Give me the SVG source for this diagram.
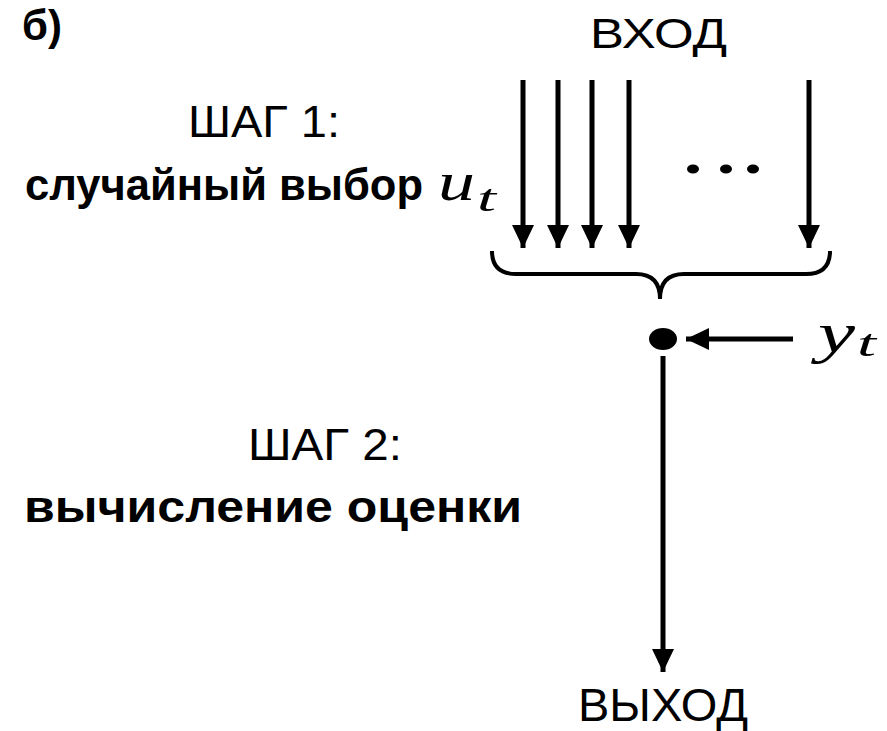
<svg xmlns="http://www.w3.org/2000/svg" width="887" height="731" viewBox="0 0 887 731">
<style>
.t{font-family:"Liberation Sans",Arial,sans-serif;fill:#000}
.b{font-weight:bold}
.m{font-family:"Liberation Serif","DejaVu Serif",serif;font-style:italic;fill:#000}
.ln{stroke:#000;stroke-width:5;fill:none}
</style>
<defs>
<marker id="ah" markerWidth="5" markerHeight="4.4" refX="4.6" refY="2.2" orient="auto" markerUnits="strokeWidth">
<path d="M0,0 L4.6,2.2 L0,4.4 Z" fill="#000"/>
</marker>
</defs>
<rect width="887" height="731" fill="#fff"/>
<g id="label-b"><text class="t b" x="22" y="40" font-size="42">б)</text></g>
<g id="input"><text class="t" x="590" y="48" font-size="43" textLength="137" lengthAdjust="spacingAndGlyphs">ВХОД</text></g>
<g id="step1">
<text class="t" x="188" y="137" font-size="44" textLength="152" lengthAdjust="spacingAndGlyphs">ШАГ 1:</text>
<text class="t b" x="25" y="200" font-size="44" textLength="398" lengthAdjust="spacingAndGlyphs">случайный выбор</text>
<text class="m" x="438" y="200" font-size="54" textLength="37" lengthAdjust="spacingAndGlyphs">u</text>
<text class="m" x="477" y="211" font-size="38" textLength="19" lengthAdjust="spacingAndGlyphs">t</text>
</g>
<g id="dots"><ellipse cx="693" cy="169" rx="6" ry="4.5"/><ellipse cx="726" cy="169" rx="6" ry="4.5"/><ellipse cx="753" cy="169" rx="6" ry="4.5"/></g>
<g id="connectors">
<line class="ln" x1="523" y1="80" x2="523" y2="248" marker-end="url(#ah)"/>
<line class="ln" x1="558" y1="80" x2="558" y2="248" marker-end="url(#ah)"/>
<line class="ln" x1="592" y1="80" x2="592" y2="248" marker-end="url(#ah)"/>
<line class="ln" x1="629" y1="80" x2="629" y2="248" marker-end="url(#ah)"/>
<line class="ln" x1="809" y1="80" x2="809" y2="248" marker-end="url(#ah)"/>
<path d="M492,251 Q492,274 516,274 L636,274 Q660,274 660,299 Q660,274 684,274 L806,274 Q830,274 830,251" stroke="#000" stroke-width="4" fill="none"/>
<line class="ln" x1="793" y1="339" x2="686" y2="339" marker-end="url(#ah)"/>
<line class="ln" x1="663" y1="356" x2="663" y2="672" marker-end="url(#ah)"/>
</g>
<g id="node"><ellipse cx="663" cy="339" rx="14" ry="11" fill="#000"/></g>
<g id="yt"><text class="m" x="818" y="352" font-size="56" textLength="37" lengthAdjust="spacingAndGlyphs">y</text><text class="m" x="857" y="356" font-size="38" textLength="19" lengthAdjust="spacingAndGlyphs">t</text></g>
<g id="step2">
<text class="t" x="248" y="460" font-size="44" textLength="154" lengthAdjust="spacingAndGlyphs">ШАГ 2:</text>
<text class="t b" x="24" y="522" font-size="44" textLength="498" lengthAdjust="spacingAndGlyphs">вычисление оценки</text>
</g>
<g id="output"><text class="t" x="578" y="721" font-size="46" textLength="170" lengthAdjust="spacingAndGlyphs">ВЫХОД</text></g>
</svg>
